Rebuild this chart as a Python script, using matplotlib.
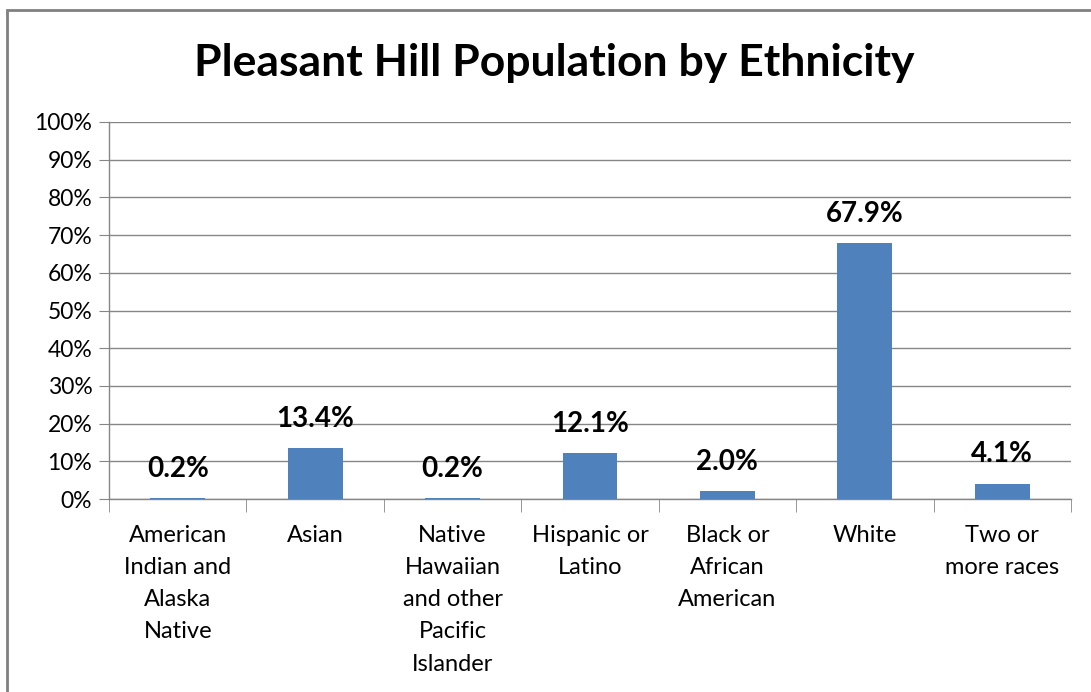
import numpy as np
import matplotlib.pyplot as plt
from matplotlib.patches import Rectangle
from matplotlib.ticker import FuncFormatter

plt.rcParams['font.family'] = ['Lato', 'DejaVu Sans']

categories = ["American\nIndian and\nAlaska\nNative", "Asian",
              "Native\nHawaiian\nand other\nPacific\nIslander",
              "Hispanic or\nLatino", "Black or\nAfrican\nAmerican",
              "White", "Two or\nmore races"]
values = [0.2, 13.4, 0.2, 12.1, 2.0, 67.9, 4.1]
yticks = np.arange(0, 101, 10)

grid_col = "#868686"
bar_col = "#4F81BD"

fig = plt.figure(figsize=(10.91, 6.92), dpi=100)
ax = fig.add_axes([109/1091, 1 - 499/692, (1071-109)/1091, (499-122)/692])

x = np.arange(len(categories))
bars = ax.bar(x, values, width=0.4, color=bar_col, zorder=3)

for xi, v in zip(x, values):
    ax.annotate("%.1f%%" % v, (xi, v), xytext=(0, 21), textcoords="offset points",
                ha="center", va="center", fontsize=20, fontweight="bold", color="black")

ax.set_ylim(0, 100)
ax.set_xlim(-0.5, len(categories) - 0.5)
ax.set_yticks(yticks)
ax.yaxis.set_major_formatter(FuncFormatter(lambda v, p: "%d%%" % v))
ax.yaxis.grid(True, color=grid_col, linewidth=1, zorder=0)
ax.tick_params(axis="y", length=7, color=grid_col, labelsize=16.5, pad=5)

ax.set_xticks(x)
ax.set_xticklabels(categories, fontsize=17, linespacing=1.66, va="top")
ax.set_xticks(np.arange(-0.5, len(categories)), minor=True)
ax.tick_params(axis="x", which="major", length=0, pad=18.5)
ax.tick_params(axis="x", which="minor", length=9, color=grid_col)

for s in ["top", "right"]:
    ax.spines[s].set_visible(False)
for s in ["left", "bottom"]:
    ax.spines[s].set_color(grid_col)
    ax.spines[s].set_linewidth(1)

fig.text(554/1091, 1 - 63/692, "Pleasant Hill Population by Ethnicity", ha="center", va="center",
         fontsize=32, fontweight="bold")

# chart border
fig.patches.append(Rectangle((7/1091, -0.1), 1.2, 1 - 10/692 + 0.1, transform=fig.transFigure,
                             fill=False, edgecolor="#808080", linewidth=2))

fig.savefig("out.png", dpi=100)
